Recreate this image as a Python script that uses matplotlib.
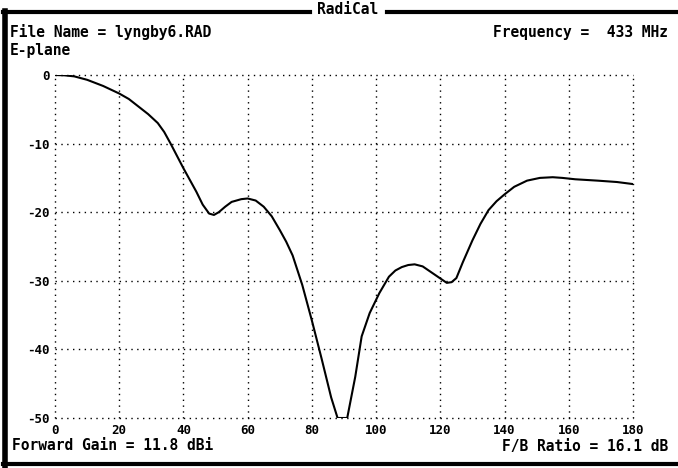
import matplotlib
matplotlib.use("Agg")
import matplotlib.pyplot as plt
from matplotlib.lines import Line2D

# ---- data ----
angle_deg = [0, 3, 6, 10, 15, 20, 23, 26, 29, 32, 34, 36, 38, 40, 42, 44, 46, 48, 49.5,
             51, 53, 55, 58, 60, 62.5, 65, 67.5, 70, 72, 74, 77,
             80, 83, 86, 88, 91, 93.5, 95.5, 98, 101, 104, 106, 108, 110, 112, 114.5,
             117, 119.5, 122, 123.5, 125, 127, 130, 132.5, 135, 137.5, 140, 143, 147,
             151, 155, 158, 162, 169, 175, 180]
gain_db = [0, -0.05, -0.2, -0.7, -1.6, -2.7, -3.5, -4.6, -5.7, -7.0, -8.3, -10.0, -11.8,
           -13.6, -15.3, -17.0, -18.9, -20.2, -20.4, -20.0, -19.2, -18.5, -18.1, -18.0,
           -18.3, -19.2, -20.6, -22.6, -24.3, -26.3, -30.6,
           -35.8, -41.3, -47.0, -50.0, -50.0, -44.0, -38.1, -34.7, -31.8, -29.4, -28.5,
           -28.0, -27.7, -27.6, -27.9, -28.7, -29.5, -30.3, -30.2, -29.6, -27.3, -24.1,
           -21.7, -19.7, -18.4, -17.4, -16.3, -15.4, -15.0, -14.9, -15.0, -15.2, -15.4,
           -15.6, -15.9]
x_ticks = [0, 20, 40, 60, 80, 100, 120, 140, 160, 180]
x_tick_labels = ["0", "20", "40", "60", "80", "100", "120", "140", "160", "180"]
y_ticks = [0, -10, -20, -30, -40, -50]
y_tick_labels = ["0", "-10", "-20", "-30", "-40", "-50"]

title = "RadiCal"
file_label = "File Name = lyngby6.RAD"
plane_label = "E-plane"
freq_label = "Frequency =  433 MHz"
gain_label = "Forward Gain = 11.8 dBi"
fb_label = "F/B Ratio = 16.1 dB"

W, H = 678, 468
fig = plt.figure(figsize=(W / 100, H / 100), dpi=100)
fig.patch.set_facecolor("white")

FONT = dict(family="DejaVu Sans Mono", weight="bold", color="black")

def fx(x):
    return x / W

def fy(y):
    return 1 - y / H

ax = fig.add_axes([fx(55), fy(418), fx(633) - fx(55), fy(75) - fy(418)])
ax.set_xlim(0, 180)
ax.set_ylim(-50, 0)
for s in ax.spines.values():
    s.set_visible(False)

dot = (0, (1, 3.2))
for xv in x_ticks:
    ax.axvline(xv, color="black", lw=1.0, ls=dot, clip_on=False)
for yv in y_ticks:
    ax.axhline(yv, color="black", lw=1.0, ls=dot, clip_on=False)

ax.plot(angle_deg, gain_db, color="black", lw=1.5, solid_joinstyle="round")

ax.set_xticks(x_ticks)
ax.set_xticklabels(x_tick_labels, fontsize=9, **FONT)
ax.set_yticks(y_ticks)
ax.set_yticklabels(y_tick_labels, fontsize=9, **FONT)
ax.tick_params(length=0, pad=4)

# header / footer texts
fig.text(fx(10), fy(32), file_label, fontsize=10.5, va="center", ha="left", **FONT)
fig.text(fx(10), fy(50), plane_label, fontsize=10.5, va="center", ha="left", **FONT)
fig.text(fx(668), fy(32), freq_label, fontsize=10.5, va="center", ha="right", **FONT)
fig.text(fx(12), fy(446), gain_label, fontsize=10.5, va="center", ha="left", **FONT)
fig.text(fx(668), fy(446), fb_label, fontsize=10.5, va="center", ha="right", **FONT)
fig.text(fx(348), fy(10), title, fontsize=10.5, va="center", ha="center", **FONT)

# frame lines
frame = [
    ([fx(3), fx(310)], [fy(12), fy(12)], 3),
    ([fx(387), fx(678)], [fy(12), fy(12)], 3),
    ([fx(3), fx(678)], [fy(464), fy(464)], 3),
    ([fx(5), fx(5)], [fy(11), fy(466)], 4),
]
for xs, ys, lw in frame:
    fig.add_artist(Line2D(xs, ys, color="black", lw=lw, transform=fig.transFigure))

fig.savefig("out.png", dpi=100, facecolor="white")
